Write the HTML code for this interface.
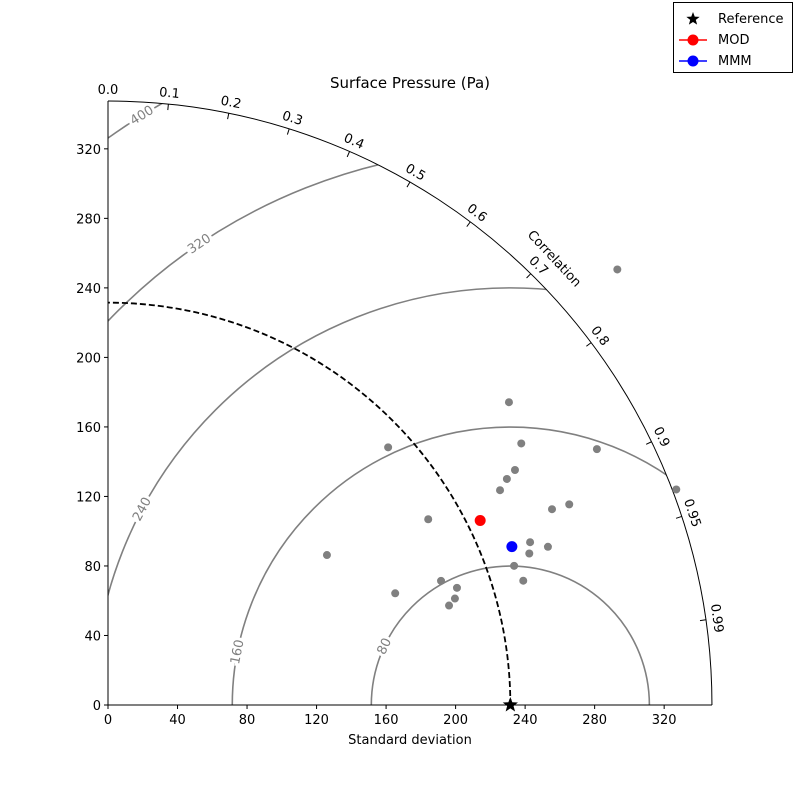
<!DOCTYPE html>
<html><head><meta charset="utf-8"><style>
body{margin:0;background:#fff}
svg{font-family:"DejaVu Sans","Liberation Sans",sans-serif}
</style></head><body>
<svg id="chart" width="800" height="800" viewBox="0 0 800 800" xmlns="http://www.w3.org/2000/svg">
<defs><clipPath id="qclip"><path id="qpath" d=""/></clipPath></defs>
<g id="g"></g>
</svg>
<script>
const modelStd=[385.6,289.1,317.5,219.0,281.4,270.4,263.8,257.2,349.7,289.4,279.2,213.0,260.3,269.0,257.6,152.7,247.0,249.4,204.5,211.8,208.8,204.4,177.3];
const modelCorr=[0.760,0.798,0.886,0.736,0.845,0.866,0.870,0.877,0.935,0.917,0.915,0.865,0.933,0.941,0.941,0.825,0.946,0.958,0.937,0.948,0.956,0.960,0.932];
const modStd=[239.0], modCorr=[0.896];
const mmmStd=[249.6], mmmCorr=[0.931];
const refStd=231.5;
const rmsLevels=[80,160,240,320,400];
const stdTicks=[0,40,80,120,160,200,240,280,320];
const corrTicks=[0,0.1,0.2,0.3,0.4,0.5,0.6,0.7,0.8,0.9,0.95,0.99];
const rMax=347.5;

const ox=108, oy=705, k=1.738;
const X=v=>ox+v*k, Y=v=>oy-v*k;
const NS="http://www.w3.org/2000/svg";
const g=document.getElementById('g');
function el(t,a,p){const e=document.createElementNS(NS,t);for(const q in a)e.setAttribute(q,a[q]);(p||g).appendChild(e);return e;}
function pt(s,c){const th=Math.acos(c);return [X(s*Math.cos(th)),Y(s*Math.sin(th))];}
const R=rMax*k;
document.getElementById('qpath').setAttribute('d',`M${ox},${oy} L${ox+R},${oy} A${R},${R} 0 0 0 ${ox},${oy-R} Z`);

const cx=X(refStd);
const cg=el('g',{'clip-path':'url(#qclip)'});


rmsLevels.forEach(r=>{const rp=r*k;
 const c=el('path',{d:`M${cx-rp},${oy} A${rp},${rp} 0 0 1 ${cx+rp},${oy}`,fill:'none',stroke:'#808080','stroke-width':1.6},cg);
 
 
});
const labAng={80:155,160:169,240:152,320:124,400:122};
rmsLevels.forEach(r=>{const a=labAng[r]*Math.PI/180;const px=cx+r*k*Math.cos(a),py=oy-r*k*Math.sin(a);
 const rot=-(labAng[r]-90);
 const t=el('text',{x:px,y:py+4,'text-anchor':'middle','font-size':13,fill:'#808080',stroke:'#fff','stroke-width':6,'paint-order':'stroke',transform:`rotate(${rot} ${px} ${py})`});
 t.textContent=r;
 
 
});
const rr=refStd*k;
const da=el('path',{d:`M${ox+rr},${oy} A${rr},${rr} 0 0 0 ${ox},${oy-rr}`,fill:'none',stroke:'#000','stroke-width':1.8,'stroke-dasharray':'6,3'});


const oa=el('path',{d:`M${ox+R},${oy} A${R},${R} 0 0 0 ${ox},${oy-R}`,fill:'none',stroke:'#000','stroke-width':1});


const ya=el('line',{x1:ox,y1:oy,x2:ox,y2:oy-R,stroke:'#000'});


const xa=el('line',{x1:ox,y1:oy,x2:ox+R,y2:oy,stroke:'#000'});


stdTicks.forEach(v=>{
 el('line',{x1:X(v),y1:oy,x2:X(v),y2:oy+4,stroke:'#000'});
 const t=el('text',{x:X(v),y:oy+19,'text-anchor':'middle','font-size':13});t.textContent=v;
 
 
 el('line',{x1:ox-4,y1:Y(v),x2:ox,y2:Y(v),stroke:'#000'});
 const u=el('text',{x:ox-7,y:Y(v)+5,'text-anchor':'end','font-size':13});u.textContent=v;
 
 
});
corrTicks.forEach(c=>{const th=Math.acos(c);
 const x1=ox+R*Math.cos(th),y1=oy-R*Math.sin(th),x2=ox+(R-6)*Math.cos(th),y2=oy-(R-6)*Math.sin(th);
 el('line',{x1,y1,x2,y2,stroke:'#000'});
 const lx=ox+(R+12)*Math.cos(th),ly=oy-(R+12)*Math.sin(th);
 const rot=90-th*180/Math.PI;
 const t=el('text',{x:lx,y:ly+5,'text-anchor':'middle','font-size':13,transform:`rotate(${rot} ${lx} ${ly})`});
 t.textContent=(c===0?'0.0':String(c));
 
 
});
{const lx=555,ly=258;
 const t=el('text',{x:lx,y:ly+5,'text-anchor':'middle','font-size':13,transform:`rotate(47 ${lx} ${ly})`});t.textContent='Correlation';
 
 }
modelStd.forEach((s,i)=>{const [x,y]=pt(s,modelCorr[i]);
 const c=el('circle',{cx:x,cy:y,r:4,fill:'#808080'});
 
 });
{const [x,y]=pt(modStd[0],modCorr[0]);const c=el('circle',{cx:x,cy:y,r:5.5,fill:'#ff0000'});
 
 }
{const [x,y]=pt(mmmStd[0],mmmCorr[0]);const c=el('circle',{cx:x,cy:y,r:5.5,fill:'#0000ff'});
 
 }
function star(x,y,r){let d='';for(let i=0;i<10;i++){const a=-Math.PI/2+i*Math.PI/5,rr=i%2?r*0.42:r;d+=(i?'L':'M')+(x+rr*Math.cos(a))+','+(y+rr*Math.sin(a));}return d+'Z';}
{const s=el('path',{d:star(X(refStd),oy,8),fill:'#000'});
 
 }
{const t=el('text',{x:410,y:88,'text-anchor':'middle','font-size':15});t.textContent='Surface Pressure (Pa)';
 
 }
{const t=el('text',{x:410,y:744,'text-anchor':'middle','font-size':13});t.textContent='Standard deviation';
 
 }
const lg=el('g',{});


el('rect',{x:673.5,y:2.5,width:119,height:70,fill:'#fff',stroke:'#000'},lg);
el('path',{d:star(693,19,7),fill:'#000'},lg);
[['MOD','#ff0000',40],['MMM','#0000ff',61]].forEach(([n,c,y])=>{
 el('line',{x1:679,y1:y,x2:707,y2:y,stroke:c,'stroke-width':1.5},lg);
 el('circle',{cx:693,cy:y,r:5.5,fill:c},lg);});
[['Reference',23],['MOD',44],['MMM',65]].forEach(([n,y])=>{const t=el('text',{x:718,y:y,'font-size':13},lg);t.textContent=n;
 
 });
</script>
</body></html>
